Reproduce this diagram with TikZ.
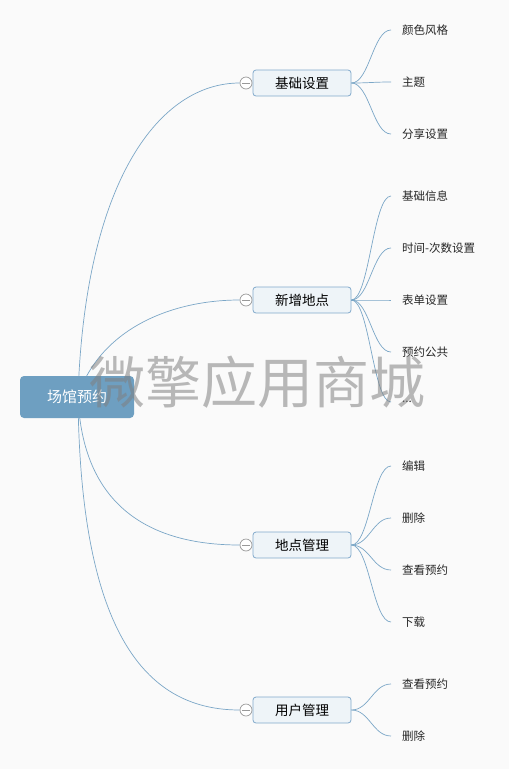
\documentclass[tikz,border=0pt]{standalone}
\usepackage{fontspec}
\setmainfont{Noto Sans CJK SC}
\definecolor{linkblue}{HTML}{7BA7C7}
\definecolor{rootblue}{HTML}{6E9FC1}
\definecolor{topicfill}{HTML}{EEF4F8}
\definecolor{topicline}{HTML}{82AACB}
\definecolor{pagebg}{HTML}{FAFAFA}
\begin{document}
\begin{tikzpicture}[x=1pt,y=-1pt,
    link/.style={draw=linkblue, line width=0.7pt},
    rootbox/.style={fill=rootblue, rounded corners=4pt, minimum width=114pt, minimum height=42pt, text=white, font=\fontsize{15}{15}\selectfont},
    topic/.style={fill=topicfill, draw=topicline, line width=0.8pt, rounded corners=3pt, minimum width=98pt, minimum height=26pt, font=\fontsize{13.5}{14}\selectfont},
    fold/.style={circle, draw=gray!80, fill=white, inner sep=0pt, minimum size=12pt, line width=0.7pt,
        path picture={\draw[gray!80, line width=0.7pt] ([xshift=-4pt]path picture bounding box.center) -- ([xshift=4pt]path picture bounding box.center);}},
    leaf/.style={anchor=west, inner xsep=0pt, font=\fontsize{11.5}{12}\selectfont, text=black!85}
]
    \fill[pagebg] (0,0) rectangle (509,769);
    \coordinate (hub) at (78,396);

    % main topics
    \node[topic] (b1) at (302,83) {基础设置};
    \node[topic] (b2) at (302,300) {新增地点};
    \node[topic] (b3) at (302,545) {地点管理};
    \node[topic] (b4) at (302,710) {用户管理};
    \node[fold] (f1) at (246,83) {};
    \node[fold] (f2) at (246,300) {};
    \node[fold] (f3) at (246,545) {};
    \node[fold] (f4) at (246,710) {};

    % sub topics
    \node[leaf] (l11) at (402,30) {颜色风格};
    \node[leaf] (l12) at (402,82) {主题};
    \node[leaf] (l13) at (402,134) {分享设置};
    \node[leaf] (l21) at (402,196) {基础信息};
    \node[leaf] (l22) at (402,248) {时间-次数设置};
    \node[leaf] (l23) at (402,300) {表单设置};
    \node[leaf] (l24) at (402,352) {预约公共};
    \node[leaf] (l25) at (402,402) {...};
    \node[leaf] (l31) at (402,466) {编辑};
    \node[leaf] (l32) at (402,518) {删除};
    \node[leaf] (l33) at (402,570) {查看预约};
    \node[leaf] (l34) at (402,622) {下载};
    \node[leaf] (l41) at (402,684) {查看预约};
    \node[leaf] (l42) at (402,736) {删除};

    % root to topics
    \draw[link] (hub) .. controls +(7,-216) and +(-80,0) .. (f1.west);
    \draw[link] (hub) .. controls +(22,-66) and +(-70,0) .. (f2.west);
    \draw[link] (hub) .. controls +(4,110) and +(-90,0) .. (f3.west);
    \draw[link] (hub) .. controls +(2,244) and +(-90,0) .. (f4.west);

    % topics to sub topics
    \foreach \l in {l11,l12,l13}
        \draw[link] (b1.east) .. controls +(18,0) and +(-18,0) .. ([xshift=-11pt]\l.west);
    \foreach \l in {l21,l22,l23,l24,l25}
        \draw[link] (b2.east) .. controls +(18,0) and +(-18,0) .. ([xshift=-11pt]\l.west);
    \foreach \l in {l31,l32,l33,l34}
        \draw[link] (b3.east) .. controls +(18,0) and +(-18,0) .. ([xshift=-11pt]\l.west);
    \foreach \l in {l41,l42}
        \draw[link] (b4.east) .. controls +(18,0) and +(-18,0) .. ([xshift=-11pt]\l.west);

    \node[rootbox] (root) at (77,397) {场馆预约};

    % watermark
    \node[text=gray, opacity=0.55, font=\fontsize{56}{56}\selectfont] (mark) at (257,382) {微擎应用商城};
\end{tikzpicture}
\end{document}
